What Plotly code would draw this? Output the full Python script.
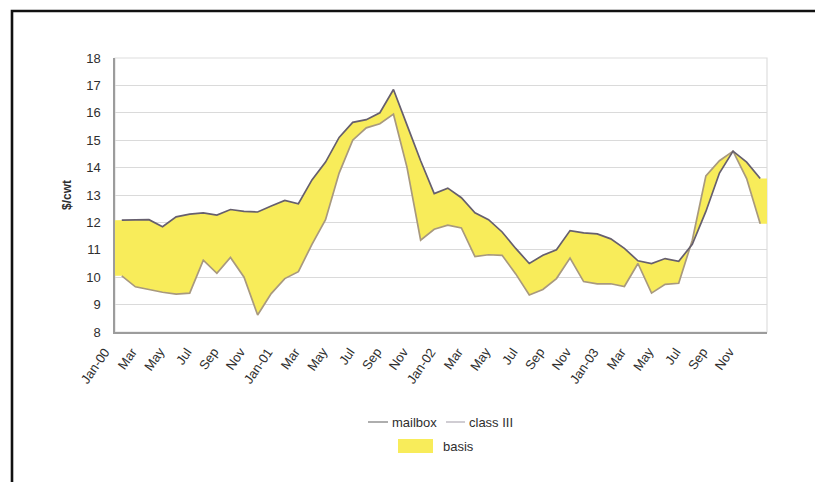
import plotly.graph_objects as go

# Monthly prices, Jan 2000 - Dec 2003 ($/cwt)
months = [f"{m}-{y:02d}" for y in range(0, 4) for m in
          ["Jan", "Feb", "Mar", "Apr", "May", "Jun",
           "Jul", "Aug", "Sep", "Oct", "Nov", "Dec"]]

mailbox = [12.08, 12.10, 12.10, 11.84, 12.20, 12.30, 12.35, 12.27, 12.47, 12.40, 12.38, 12.60,
           12.80, 12.68, 13.55, 14.20, 15.10, 15.65, 15.75, 16.00, 16.85, 15.55, 14.25, 13.05,
           13.25, 12.90, 12.35, 12.10, 11.65, 11.05, 10.50, 10.80, 11.00, 11.70, 11.62, 11.58,
           11.40, 11.05, 10.60, 10.50, 10.68, 10.58, 11.20, 12.40, 13.80, 14.60, 14.20, 13.60]

class_iii = [10.05, 9.65, 9.55, 9.45, 9.38, 9.42, 10.62, 10.14, 10.72, 10.00, 8.62, 9.40,
             9.95, 10.20, 11.20, 12.10, 13.80, 15.00, 15.45, 15.60, 15.95, 14.00, 11.35, 11.75,
             11.90, 11.80, 10.75, 10.82, 10.80, 10.12, 9.35, 9.55, 9.95, 10.70, 9.84, 9.76,
             9.76, 9.66, 10.50, 9.42, 9.74, 9.78, 11.35, 13.70, 14.25, 14.60, 13.60, 11.95]

tick_labels = ["Jan-00", "Mar", "May", "Jul", "Sep", "Nov",
               "Jan-01", "Mar", "May", "Jul", "Sep", "Nov",
               "Jan-02", "Mar", "May", "Jul", "Sep", "Nov",
               "Jan-03", "Mar", "May", "Jul", "Sep", "Nov"]

MAILBOX_COLOR = "#665f6e"
CLASS_COLOR = "#a8997e"
BASIS_COLOR = "#f8ec5a"
TEXT_COLOR = "#2e2e2e"
FONT = "Liberation Sans, Arial, sans-serif"

W, H = 815, 482
L, R, T, B = 115, 48, 58, 150
PW, PH = W - L - R, H - T - B

idx = list(range(len(months)))
# the basis band spans the full category width, so it runs flat to both edges
band_x = [idx[0] - 0.5] + idx + [idx[-1] + 0.5]
band_lo = [class_iii[0]] + class_iii + [class_iii[-1]]
band_hi = [mailbox[0]] + mailbox + [mailbox[-1]]

fig = go.Figure()
fig.add_trace(go.Scatter(x=band_x, y=band_lo, mode="lines", line=dict(width=0),
                         hoverinfo="skip", showlegend=False))
fig.add_trace(go.Scatter(x=band_x, y=band_hi, mode="lines", line=dict(width=0),
                         fill="tonexty", fillcolor=BASIS_COLOR, name="basis",
                         showlegend=False))
fig.add_trace(go.Scatter(x=idx, y=class_iii, mode="lines", name="class III",
                         line=dict(color=CLASS_COLOR, width=1.7), showlegend=False))
fig.add_trace(go.Scatter(x=idx, y=mailbox, mode="lines", name="mailbox",
                         line=dict(color=MAILBOX_COLOR, width=1.7), showlegend=False))


def px(x):
    return (x - L) / PW


def py(y):
    return (H - B - y) / PH


shapes = [
    # light plot-area border
    dict(type="rect", xref="paper", yref="paper", x0=0, x1=1, y0=0, y1=1,
         line=dict(color="#dedede", width=1.2), layer="below"),
    # outer black frame
    dict(type="rect", xref="paper", yref="paper", x0=px(12), x1=px(900),
         y0=py(560), y1=py(11), line=dict(color="#111111", width=2.6)),
    # legend keys
    dict(type="line", xref="paper", yref="paper", x0=px(368), x1=px(388),
         y0=py(422), y1=py(422), line=dict(color="#9a9a9a", width=1.6)),
    dict(type="line", xref="paper", yref="paper", x0=px(446), x1=px(465),
         y0=py(422), y1=py(422), line=dict(color="#c4c0c8", width=1.6)),
    dict(type="rect", xref="paper", yref="paper", x0=px(398), x1=px(433),
         y0=py(453), y1=py(439), line=dict(width=0), fillcolor=BASIS_COLOR),
]

label_font = dict(family=FONT, size=13, color=TEXT_COLOR)

annotations = [
    dict(text="mailbox", xref="paper", yref="paper", x=px(390), y=py(422),
         xanchor="left", yanchor="middle", showarrow=False, font=label_font),
    dict(text="class III", xref="paper", yref="paper", x=px(467), y=py(422),
         xanchor="left", yanchor="middle", showarrow=False, font=label_font),
    dict(text="basis", xref="paper", yref="paper", x=px(441), y=py(446),
         xanchor="left", yanchor="middle", showarrow=False, font=label_font),
]

# slanted month labels under every second category
for i, lab in zip(idx[::2], tick_labels):
    annotations.append(dict(
        text=lab, xref="x", yref="paper", x=i, y=0,
        xanchor="right", yanchor="top", textangle=-55,
        xshift=-6, yshift=-10, showarrow=False, font=label_font))

fig.update_layout(
    width=W, height=H,
    margin=dict(l=L, r=R, t=T, b=B, pad=0),
    paper_bgcolor="white", plot_bgcolor="white",
    font=dict(family=FONT, size=13, color=TEXT_COLOR),
    shapes=shapes, annotations=annotations,
    showlegend=False,
)

fig.update_xaxes(
    range=[-0.5, len(months) - 0.5],
    showticklabels=False, ticks="", showgrid=False, zeroline=False,
    showline=True, linecolor="#9c9c9c", linewidth=1.5,
)
fig.update_yaxes(
    range=[8, 18], dtick=1, tick0=8,
    ticks="", showgrid=True, gridcolor="#dadada", gridwidth=1.2,
    zeroline=False, showline=True, linecolor="#9c9c9c", linewidth=1.5,
    ticklabelstandoff=10,
    tickfont=dict(family=FONT, size=13, color=TEXT_COLOR),
    title=dict(text="<b>$/cwt</b>", standoff=12,
               font=dict(family=FONT, size=12, color=TEXT_COLOR)),
)

fig.write_html("out.html")
